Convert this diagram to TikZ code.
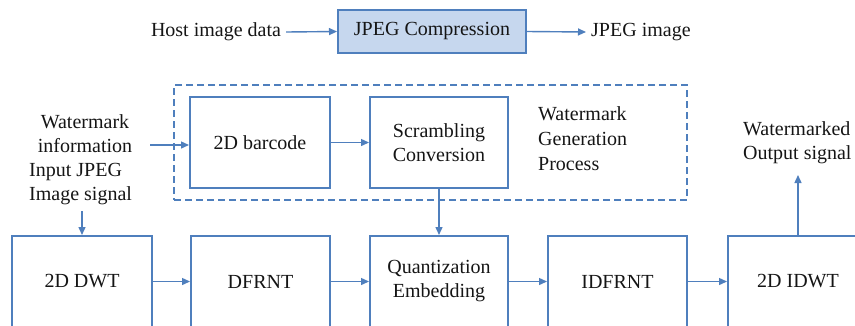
\documentclass[tikz,border=0pt]{standalone}
\usepackage{fontspec}
\setmainfont{Liberation Serif}
\newfontfamily\tnr{Liberation Serif}
\usetikzlibrary{arrows.meta}
\definecolor{bblue}{HTML}{4F7FBD}
\definecolor{lblue}{HTML}{C6D7EE}
\definecolor{txt}{HTML}{151515}
\begin{document}
\begin{tikzpicture}[x=1pt,y=-1pt,
  every node/.append style={font=\tnr\fontsize{20}{24}\selectfont, text=txt},
  blk/.style={draw=bblue, line width=2pt, inner sep=0pt, align=center},
  lbl/.style={inner sep=0pt, align=center},
  frame/.style={draw=bblue, line width=2pt, dash pattern=on 7pt off 4pt, inner sep=0pt},
  arr/.style={draw=bblue, line width=1.4pt, -{Triangle[length=8pt,width=7pt]}},
]
\useasboundingbox (0,0) rectangle (855,325);
\clip (0,0) rectangle (855,325);

% top row
\node[lbl] (host) at (216,32) {Host image data};
\node[blk, fill=lblue, minimum width=188pt, minimum height=43pt] (jpeg) at (432,31.5) {JPEG Compression};
\node[lbl, anchor=west] (jimg) at (591,32) {JPEG image};
\draw[arr] ([xshift=5pt]host.east) -- (jpeg.west);
\draw[arr] (jpeg.east) -- ([xshift=-5pt]jimg.west);

% watermark generation
\node[frame, minimum width=513pt, minimum height=115pt] (wgp) at (430.5,142.5) {};
\node[blk, minimum width=140pt, minimum height=91pt] (bar) at (260,142.5) {2D barcode};
\node[blk, minimum width=138pt, minimum height=91pt] (scr) at (439,142.5) {Scrambling\\Conversion};
\node[lbl, align=left, anchor=west, font=\tnr\fontsize{20}{25}\selectfont] (wgptxt) at (538,139) {Watermark\\Generation\\Process};

\node[lbl] (wmi) at (85,134) {Watermark\\information};
\node[lbl, align=left, anchor=west] (inp) at (29,184.5) {Input JPEG\\Image signal};
\coordinate (wmiA) at (150,145);
\draw[arr] (wmiA) -- (wmiA -| bar.west);
\draw[arr] (bar.east) -- (scr.west);

% bottom row
\node[blk, minimum width=140pt, minimum height=91pt] (dwt) at (82,281.5) {2D DWT};
\node[blk, minimum width=139pt, minimum height=91pt] (dfrnt) at (260.5,281.5) {DFRNT};
\node[blk, minimum width=138pt, minimum height=91pt] (quant) at (439,281.5) {Quantization\\Embedding};
\node[blk, minimum width=139pt, minimum height=91pt] (idfrnt) at (617.5,281.5) {IDFRNT};
\node[blk, minimum width=140pt, minimum height=91pt] (idwt) at (798,281.5) {2D IDWT};

\coordinate (inpA) at (82,211);
\draw[arr] (inpA) -- (dwt.north);
\draw[arr] (scr.south) -- (quant.north);
\draw[arr] (dwt.east) -- (dfrnt.west);
\draw[arr] (dfrnt.east) -- (quant.west);
\draw[arr] (quant.east) -- (idfrnt.west);
\draw[arr] (idfrnt.east) -- (idwt.west);

\node[lbl, align=left, anchor=west] (wmo) at (743,143) {Watermarked\\Output signal};
\coordinate (wmoA) at (798,175);
\draw[arr] (idwt.north) -- (wmoA);
\end{tikzpicture}
\end{document}
